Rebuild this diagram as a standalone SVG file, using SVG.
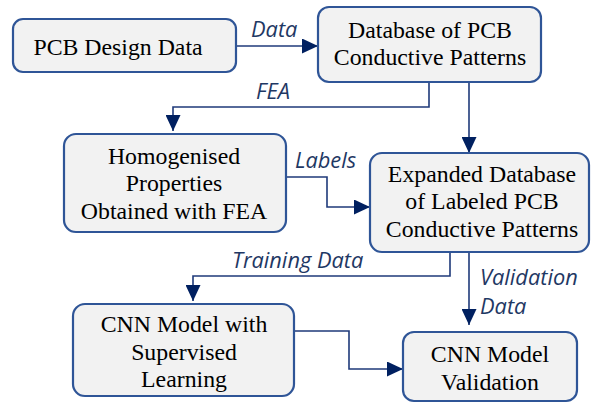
<svg xmlns="http://www.w3.org/2000/svg" width="591" height="403" viewBox="0 0 591 403">
<style>
.box{fill:#F2F2F2;stroke:#2F5597;stroke-width:2.2}
.t{font-family:"Liberation Serif","Times New Roman",serif;font-size:23.8px;fill:#000;text-anchor:middle}
.lbl{font-family:"Open Sans","Liberation Sans",sans-serif;font-style:italic;font-size:21.8px;fill:#1F3864}
.c{fill:none;stroke:#1F3A7A;stroke-width:1.6}
</style>
<defs>
<marker id="ah" viewBox="0 0 16 15" refX="16" refY="7.5" markerWidth="16" markerHeight="15" orient="auto" markerUnits="userSpaceOnUse">
<path d="M0,0 L16,7.5 L0,15 Z" fill="#002060"/>
</marker>
</defs>
<g id="connectors">
<path class="c" d="M236,46 H318" marker-end="url(#ah)"/>
<path class="c" d="M429,82 V107 H173 V131" marker-end="url(#ah)"/>
<path class="c" d="M469,82 V153" marker-end="url(#ah)"/>
<path class="c" d="M286,177 H327 V207 H370" marker-end="url(#ah)"/>
<path class="c" d="M450,252 V276 H193 V301" marker-end="url(#ah)"/>
<path class="c" d="M469,252 V325" marker-end="url(#ah)"/>
<path class="c" d="M294,331 H349 V369 H403" marker-end="url(#ah)"/>
<text class="lbl" x="251" y="37">Data</text>
<text class="lbl" x="256" y="99">FEA</text>
<text class="lbl" x="295" y="168">Labels</text>
<text class="lbl" x="232" y="268">Training Data</text>
<text class="lbl" x="480" y="285">Validation</text>
<text class="lbl" x="480" y="314">Data</text>
</g>
<g id="pcb-design-data">
<rect class="box" x="13" y="19" width="223" height="53" rx="10"/>
<text class="t" x="118" y="55">PCB Design Data</text>
</g>
<g id="database">
<rect class="box" x="318" y="7" width="223" height="75" rx="11"/>
<text class="t" x="430" y="38">Database of PCB</text>
<text class="t" x="430" y="65">Conductive Patterns</text>
</g>
<g id="homogenised">
<rect class="box" x="64" y="134" width="222" height="98" rx="12"/>
<text class="t" x="174" y="164">Homogenised</text>
<text class="t" x="174" y="191">Properties</text>
<text class="t" x="174" y="219">Obtained with FEA</text>
</g>
<g id="expanded">
<rect class="box" x="370" y="153" width="219" height="99" rx="12"/>
<text class="t" x="482" y="182">Expanded Database</text>
<text class="t" x="482" y="209">of Labeled PCB</text>
<text class="t" x="482" y="237">Conductive Patterns</text>
</g>
<g id="cnn-model">
<rect class="box" x="73" y="304" width="221" height="92" rx="12"/>
<text class="t" x="184" y="332">CNN Model with</text>
<text class="t" x="184" y="360">Supervised</text>
<text class="t" x="184" y="387">Learning</text>
</g>
<g id="cnn-validation">
<rect class="box" x="403" y="332" width="174" height="69" rx="11"/>
<text class="t" x="490" y="362">CNN Model</text>
<text class="t" x="490" y="390">Validation</text>
</g>
</svg>
